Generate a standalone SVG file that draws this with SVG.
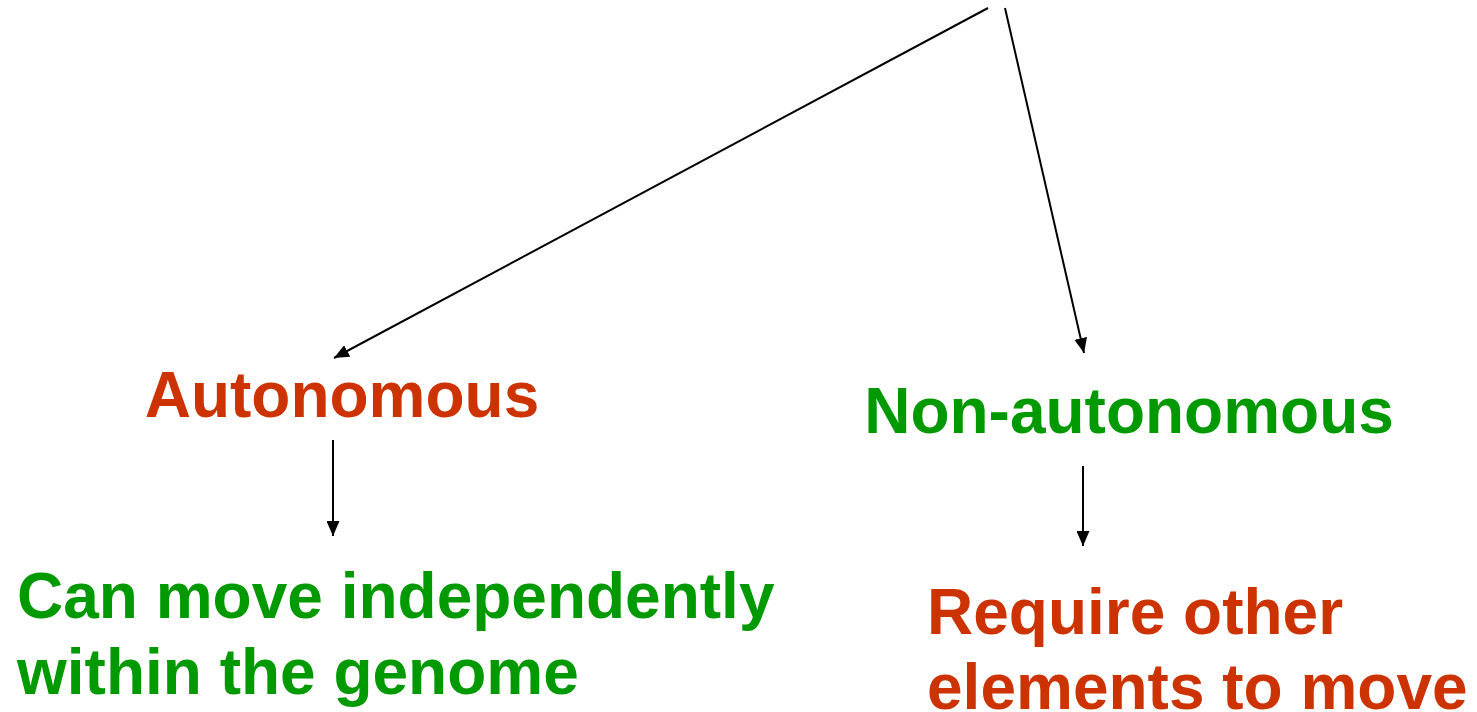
<svg xmlns="http://www.w3.org/2000/svg" width="1477" height="712" viewBox="0 0 1477 712">
<style>
.t{font-family:"Liberation Sans",Arial,sans-serif;font-weight:bold;font-size:64px}
.r{fill:#CC3300}
.g{fill:#009900}
.c{stroke:#000;stroke-width:2;fill:none}
</style>
<defs>
<marker id="ah" viewBox="0 0 10 10" refX="10" refY="5" markerWidth="15" markerHeight="13" markerUnits="userSpaceOnUse" orient="auto" preserveAspectRatio="none">
<path d="M0,0 L10,5 L0,10 z" fill="#000"/>
</marker>
</defs>
<rect width="1477" height="712" fill="#fff"/>
<g id="connectors">
<line class="c" x1="988" y1="8" x2="334" y2="358" marker-end="url(#ah)"/>
<line class="c" x1="1005" y1="8" x2="1084" y2="353" marker-end="url(#ah)"/>
<line class="c" x1="333" y1="440" x2="333" y2="536" marker-end="url(#ah)"/>
<line class="c" x1="1083" y1="466" x2="1083" y2="546" marker-end="url(#ah)"/>
</g>
<g id="autonomous"><text class="t r" x="342" y="417" text-anchor="middle">Autonomous</text></g>
<g id="non-autonomous"><text class="t g" x="1129" y="433" text-anchor="middle">Non-autonomous</text></g>
<g id="can-move"><text class="t g" x="17" y="618">Can move independently</text><text class="t g" x="17" y="694">within the genome</text></g>
<g id="require"><text class="t r" x="927" y="634">Require other</text><text class="t r" x="927" y="709">elements to move</text></g>
</svg>
